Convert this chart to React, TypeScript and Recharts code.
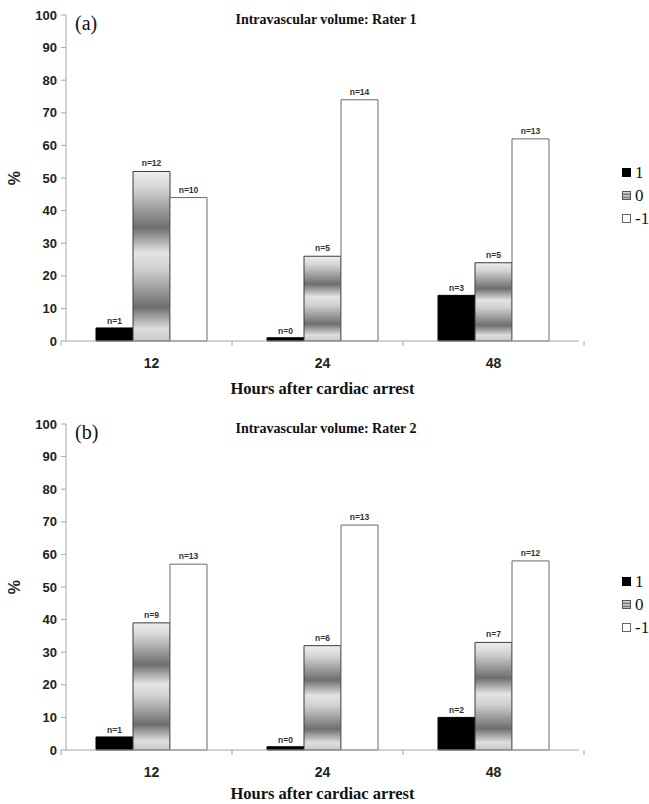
import React from 'react';
import { BarChart, Bar, XAxis, YAxis, LabelList, Legend } from 'recharts';

const categories = ['12', '24', '48'];
const yTicks = [0, 10, 20, 30, 40, 50, 60, 70, 80, 90, 100];
const seriesNames = ['1', '0', '-1'];

const rater1Pos = [4, 1, 14];
const rater1Neutral = [52, 26, 24];
const rater1Neg = [44, 74, 62];
const rater1PosN = [1, 0, 3];
const rater1NeutralN = [12, 5, 5];
const rater1NegN = [10, 14, 13];

const rater2Pos = [4, 1, 10];
const rater2Neutral = [39, 32, 33];
const rater2Neg = [57, 69, 58];
const rater2PosN = [1, 0, 2];
const rater2NeutralN = [9, 6, 7];
const rater2NegN = [13, 13, 12];

const CHART_W = 649;
const CHART_H = 410;
const MARGIN = { top: 15, right: 40, left: 6, bottom: 16 };
const Y_AXIS_W = 60;
const X_AXIS_H = 53;
const TICK_SIZE = 5;
const TICK_MARGIN = 8;
const AXIS_COLOR = '#a6a6a6';
const SERIF = "'Liberation Serif', 'Times New Roman', serif";
const SANS = "'Liberation Sans', Arial, sans-serif";

const plotW = CHART_W - MARGIN.left - MARGIN.right - Y_AXIS_W;
const bandW = plotW / categories.length;

function buildData(pos: number[], neu: number[], neg: number[], posN: number[], neuN: number[], negN: number[]) {
  return categories.map((c, i) => ({
    cat: c,
    pos: pos[i],
    neu: neu[i],
    neg: neg[i],
    posLabel: 'n=' + posN[i],
    neuLabel: 'n=' + neuN[i],
    negLabel: 'n=' + negN[i],
  }));
}

const XTick = (props: any) => {
  const { x, y, payload, index } = props;
  const lineTop = y - TICK_SIZE - TICK_MARGIN;
  const lineBottom = y - TICK_MARGIN;
  const left = x - bandW / 2;
  const right = x + bandW / 2;
  return (
    <g>
      <line x1={left} x2={left} y1={lineTop} y2={lineBottom} stroke={AXIS_COLOR} />
      {index === categories.length - 1 && (
        <line x1={right} x2={right} y1={lineTop} y2={lineBottom} stroke={AXIS_COLOR} />
      )}
      <text
        x={x}
        y={y + 9}
        textAnchor="middle"
        dominantBaseline="central"
        fontFamily={SANS}
        fontWeight="bold"
        fontSize={14}
        fill="#222"
      >
        {payload.value}
      </text>
    </g>
  );
};

const LegendContent = () => {
  const swatches = [
    { name: seriesNames[0], style: { background: '#000', border: '1px solid #000' } },
    {
      name: seriesNames[1],
      style: {
        background: 'linear-gradient(#eee 0%, #777 35%, #ddd 55%, #777 80%, #ddd 100%)',
        border: '1px solid #555',
      },
    },
    { name: seriesNames[2], style: { background: '#fff', border: '1px solid #666' } },
  ];
  return (
    <div style={{ fontFamily: SERIF }}>
      {swatches.map((s) => (
        <div key={s.name} style={{ display: 'flex', alignItems: 'center', height: 23 }}>
          <div style={{ width: 9, height: 9, boxSizing: 'border-box', ...s.style }} />
          <span
            style={{
              marginLeft: 4,
              fontFamily: SERIF,
              fontSize: 17,
              color: '#111',
              lineHeight: '17px',
            }}
          >
            {s.name}
          </span>
        </div>
      ))}
    </div>
  );
};

const labelStyle = {
  fontSize: 8.5,
  fontWeight: 'bold' as const,
  fontFamily: SANS,
  fill: '#333',
};

type PanelProps = {
  top: number;
  tag: string;
  title: string;
  data: any[];
  gradId: string;
  xLabelOffset: number;
};

const Panel = ({ top, tag, title, data, gradId, xLabelOffset }: PanelProps) => (
  <div style={{ position: 'absolute', left: 0, top, width: CHART_W, height: CHART_H }}>
    <BarChart
      width={CHART_W}
      height={CHART_H}
      data={data}
      margin={MARGIN}
      barGap={0}
      barCategoryGap={30}
    >
      <defs>
        <linearGradient id={gradId} x1="0" y1="0" x2="0" y2="1">
          <stop offset="0%" stopColor="#efefef" />
          <stop offset="10%" stopColor="#d4d4d4" />
          <stop offset="33%" stopColor="#6e6e6e" />
          <stop offset="48%" stopColor="#e4e4e4" />
          <stop offset="58%" stopColor="#cfcfcf" />
          <stop offset="80%" stopColor="#6e6e6e" />
          <stop offset="93%" stopColor="#dedede" />
          <stop offset="100%" stopColor="#c8c8c8" />
        </linearGradient>
      </defs>
      <XAxis
        dataKey="cat"
        height={X_AXIS_H}
        stroke={AXIS_COLOR}
        tickLine={false}
        tickSize={TICK_SIZE}
        tickMargin={TICK_MARGIN}
        tick={<XTick />}
        interval={0}
        label={{
          value: 'Hours after cardiac arrest',
          position: 'insideBottom',
          offset: xLabelOffset,
          fontFamily: SERIF,
          fontWeight: 'bold',
          fontSize: 16.5,
          fill: '#111',
        }}
      />
      <YAxis
        width={Y_AXIS_W}
        domain={[0, 100]}
        ticks={yTicks}
        interval={0}
        stroke={AXIS_COLOR}
        tickSize={TICK_SIZE}
        tickMargin={4}
        tick={{
          fontFamily: SANS,
          fontWeight: 'bold',
          fontSize: 13,
          fill: '#222',
        }}
        label={{
          content: (p: any) => {
            const vb = p.viewBox;
            const cx = vb.x + 8;
            const cy = vb.y + vb.height / 2;
            return (
              <text
                x={cx}
                y={cy}
                transform={`rotate(-90 ${cx} ${cy})`}
                textAnchor="middle"
                dominantBaseline="central"
                fontFamily={SANS}
                fontWeight="bold"
                fontSize={16}
                fill="#222"
              >
                %
              </text>
            );
          },
        }}
      />
      <Legend
        layout="vertical"
        align="right"
        verticalAlign="top"
        content={<LegendContent />}
        wrapperStyle={{ position: 'absolute', left: 622, top: 161, width: 30 }}
      />
      <Bar dataKey="pos" name={seriesNames[0]} fill="#000" stroke="#000" isAnimationActive={false}>
        <LabelList dataKey="posLabel" position="top" offset={4} style={labelStyle} />
      </Bar>
      <Bar dataKey="neu" name={seriesNames[1]} fill={`url(#${gradId})`} stroke="#3a3a3a" isAnimationActive={false}>
        <LabelList dataKey="neuLabel" position="top" offset={5} style={labelStyle} />
      </Bar>
      <Bar dataKey="neg" name={seriesNames[2]} fill="#fff" stroke="#6a6a6a" isAnimationActive={false}>
        <LabelList dataKey="negLabel" position="top" offset={5} style={labelStyle} />
      </Bar>
    </BarChart>
    <div
      style={{
        position: 'absolute',
        left: 75,
        top: 11,
        fontFamily: SERIF,
        fontSize: 20,
        lineHeight: '24px',
        color: '#111',
      }}
    >
      {tag}
    </div>
    <div
      style={{
        position: 'absolute',
        left: 0,
        width: 652,
        top: 11,
        textAlign: 'center',
        fontFamily: SERIF,
        fontWeight: 'bold',
        fontSize: 14,
        lineHeight: '18px',
        color: '#111',
      }}
    >
      {title}
    </div>
  </div>
);

export default function App() {
  const data1 = buildData(rater1Pos, rater1Neutral, rater1Neg, rater1PosN, rater1NeutralN, rater1NegN);
  const data2 = buildData(rater2Pos, rater2Neutral, rater2Neg, rater2PosN, rater2NeutralN, rater2NegN);
  return (
    <div style={{ position: 'absolute', left: 0, top: 0, width: 649, height: 804, background: '#fff', overflow: 'hidden' }}>
      <Panel top={0} tag="(a)" title="Intravascular volume: Rater 1" data={data1} gradId="gradA" xLabelOffset={0} />
      <Panel top={409} tag="(b)" title="Intravascular volume: Rater 2" data={data2} gradId="gradB" xLabelOffset={4} />
    </div>
  );
}
